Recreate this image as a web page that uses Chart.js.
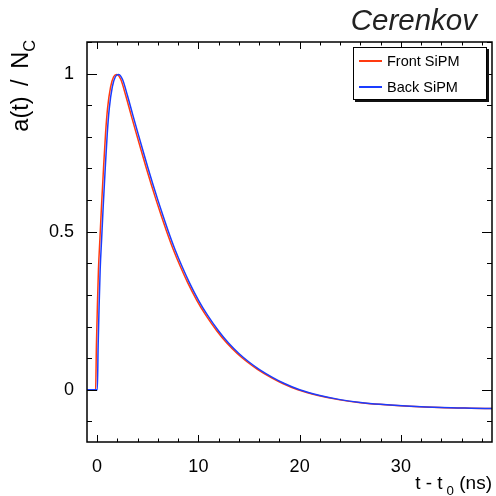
<!DOCTYPE html>
<html>
<head>
<meta charset="utf-8">
<script src="https://cdn.jsdelivr.net/npm/chart.js@4.4.0/dist/chart.umd.min.js"></script>
<style>
    body { margin: 0; background: #fff; }
    #wrap { position: relative; width: 496px; height: 496px; font-family: 'Liberation Sans', Arial, sans-serif; }
    #wrap div { position: absolute; white-space: nowrap; color: #000; }
    .title { right: 19px; top: 5px; font-size: 29.5px; line-height: 30px; font-style: italic; color: #222 !important; }
    .ytitle { left: 8px; top: 180px; width: 140px; text-align: right; font-size: 23.5px; line-height: 24px; word-spacing: 4px;
              transform-origin: top left; transform: rotate(-90deg); }
    .xtitle { right: 4px; top: 472px; font-size: 19px; line-height: 22px; }
    sub { font-size: 70%; vertical-align: -0.45em; }
    .legend { left: 353px; top: 47px; width: 132px; height: 51px; border: 1px solid #000; background: #fff;
              box-shadow: 2px 2px 0 #111; }
    .lgline { height: 2px; width: 23px; left: 5px; }
    .lgtext { left: 33px; font-size: 14.5px; line-height: 16px; }
</style>
</head>
<body>
<div id="wrap">
    <canvas id="pulseChart" width="496" height="496"></canvas>
    <div class="title">Cerenkov</div>
    <div class="ytitle">a(t) / N<sub>C</sub></div>
    <div class="xtitle">t - t<sub style="margin-left:4px">0</sub> (ns)</div>
    <div class="legend">
        <div class="lgline" style="top:12px; background-color:#ff3a10;"></div>
        <div class="lgtext" style="top:5px;">Front SiPM</div>
        <div class="lgline" style="top:38px; background-color:#1a3cff;"></div>
        <div class="lgtext" style="top:31px;">Back SiPM</div>
    </div>
</div>
<script>
// 축 눈금
const xTicks = [0, 10, 20, 30];
const yTicks = [0, 0.5, 1];

// Front SiPM (ns, a/Nc)
const frontTime = [-1, -0.15, -0.07, 0.03, 0.13, 0.28, 0.43, 0.63, 0.83, 1.03, 1.33, 1.63, 1.93, 2.33, 2.83,
    3.33, 3.83, 4.33, 4.83, 5.33, 5.83, 6.33, 6.83, 7.53, 8.23, 8.93, 9.83, 10.73, 11.83, 12.83, 13.83,
    14.83, 15.83, 17.23, 18.33, 19.83, 21.83, 23.83, 25.83, 27.83, 30.83, 33.83, 36.83, 39];
const frontValue = [0, 0, 0.14, 0.27, 0.38, 0.48, 0.58, 0.70, 0.81, 0.89, 0.958, 0.99, 0.997, 0.982, 0.93,
    0.872, 0.815, 0.759, 0.704, 0.651, 0.600, 0.551, 0.504, 0.443, 0.389, 0.340, 0.284, 0.236, 0.186, 0.147, 0.115,
    0.088, 0.065, 0.038, 0.020, 0.0, -0.018, -0.031, -0.040, -0.046, -0.052, -0.056, -0.058, -0.059];

// Back SiPM
const backTime = [-1, 0.02, 0.1, 0.2, 0.3, 0.45, 0.6, 0.8, 1.0, 1.2, 1.5, 1.8, 2.1, 2.5, 3.0,
    3.5, 4.0, 4.5, 5.0, 5.5, 6.0, 6.5, 7.0, 7.7, 8.4, 9.1, 10.0, 10.9, 12.0, 13.0, 14.0,
    15.0, 16.0, 17.4, 18.5, 20.0, 22.0, 24.0, 26.0, 28.0, 31.0, 34.0, 37.0, 39.0];
const backValue = [0, 0, 0.14, 0.27, 0.38, 0.48, 0.58, 0.70, 0.81, 0.89, 0.958, 0.99, 0.997, 0.982, 0.93,
    0.872, 0.815, 0.759, 0.704, 0.651, 0.600, 0.551, 0.504, 0.443, 0.389, 0.340, 0.284, 0.236, 0.186, 0.147, 0.115,
    0.088, 0.065, 0.038, 0.020, 0.0, -0.018, -0.031, -0.040, -0.046, -0.052, -0.056, -0.058, -0.059];

const toPoints = (ts, vs) => ts.map((t, i) => ({ x: t, y: vs[i] }));

// ROOT 스타일 프레임 + 안쪽 눈금
const framePlugin = {
    id: 'frame',
    afterDatasetsDraw(chart) {
        const c = chart.ctx;
        const a = chart.chartArea;
        const sx = chart.scales.x, sy = chart.scales.y;
        c.save();
        c.strokeStyle = '#000';
        c.lineWidth = 1;
        c.beginPath();
        for (let v = 0; v <= sx.max; v += 2) {
            const px = Math.round(sx.getPixelForValue(v)) + 0.5;
            const len = (v % 10 === 0) ? 7 : 3.5;
            c.moveTo(px, a.bottom); c.lineTo(px, a.bottom - len);
            c.moveTo(px, a.top); c.lineTo(px, a.top + len);
        }
        for (let k = -1; k <= 11; k++) {
            const v = k / 10;
            if (v < sy.min || v > sy.max) continue;
            const py = Math.round(sy.getPixelForValue(v)) + 0.5;
            const len = (k % 5 === 0) ? 10 : 5;
            c.moveTo(a.left, py); c.lineTo(a.left + len, py);
            c.moveTo(a.right, py); c.lineTo(a.right - len, py);
        }
        c.stroke();
        c.lineWidth = 1.5;
        c.strokeRect(a.left, a.top, a.right - a.left, a.bottom - a.top);
        c.restore();
    }
};

const ctx = document.getElementById('pulseChart');
new Chart(ctx, {
    type: 'line',
    data: {
        datasets: [
            {
                label: 'Front SiPM',
                data: toPoints(frontTime, frontValue),
                borderColor: '#ff3a10',
                borderWidth: 1.5,
                pointRadius: 0,
                cubicInterpolationMode: 'monotone',
                order: 2
            },
            {
                label: 'Back SiPM',
                data: toPoints(backTime, backValue),
                borderColor: '#1a3cff',
                borderWidth: 1.5,
                pointRadius: 0,
                cubicInterpolationMode: 'monotone',
                order: 1
            }
        ]
    },
    options: {
        responsive: false,
        animation: false,
        events: [],
        layout: { padding: { top: 42, right: 4, left: 0, bottom: 0 } },
        plugins: { legend: { display: false }, tooltip: { enabled: false } },
        scales: {
            x: {
                type: 'linear',
                min: -1,
                max: 39,
                afterBuildTicks: s => { s.ticks = xTicks.map(v => ({ value: v })); },
                afterFit: s => { s.height = 54; },
                ticks: {
                    color: '#000',
                    font: { family: "'Liberation Sans', Arial, sans-serif", size: 18 },
                    padding: 6,
                    maxRotation: 0,
                    callback: v => String(v)
                },
                grid: { display: false },
                border: { display: false }
            },
            y: {
                min: -0.165,
                max: 1.1,
                afterBuildTicks: s => { s.ticks = yTicks.map(v => ({ value: v })); },
                afterFit: s => { s.width = 87; },
                ticks: {
                    color: '#000',
                    font: { family: "'Liberation Sans', Arial, sans-serif", size: 18 },
                    padding: 5,
                    callback: v => String(v)
                },
                grid: { display: false },
                border: { display: false }
            }
        }
    },
    plugins: [framePlugin]
});
</script>
</body>
</html>
